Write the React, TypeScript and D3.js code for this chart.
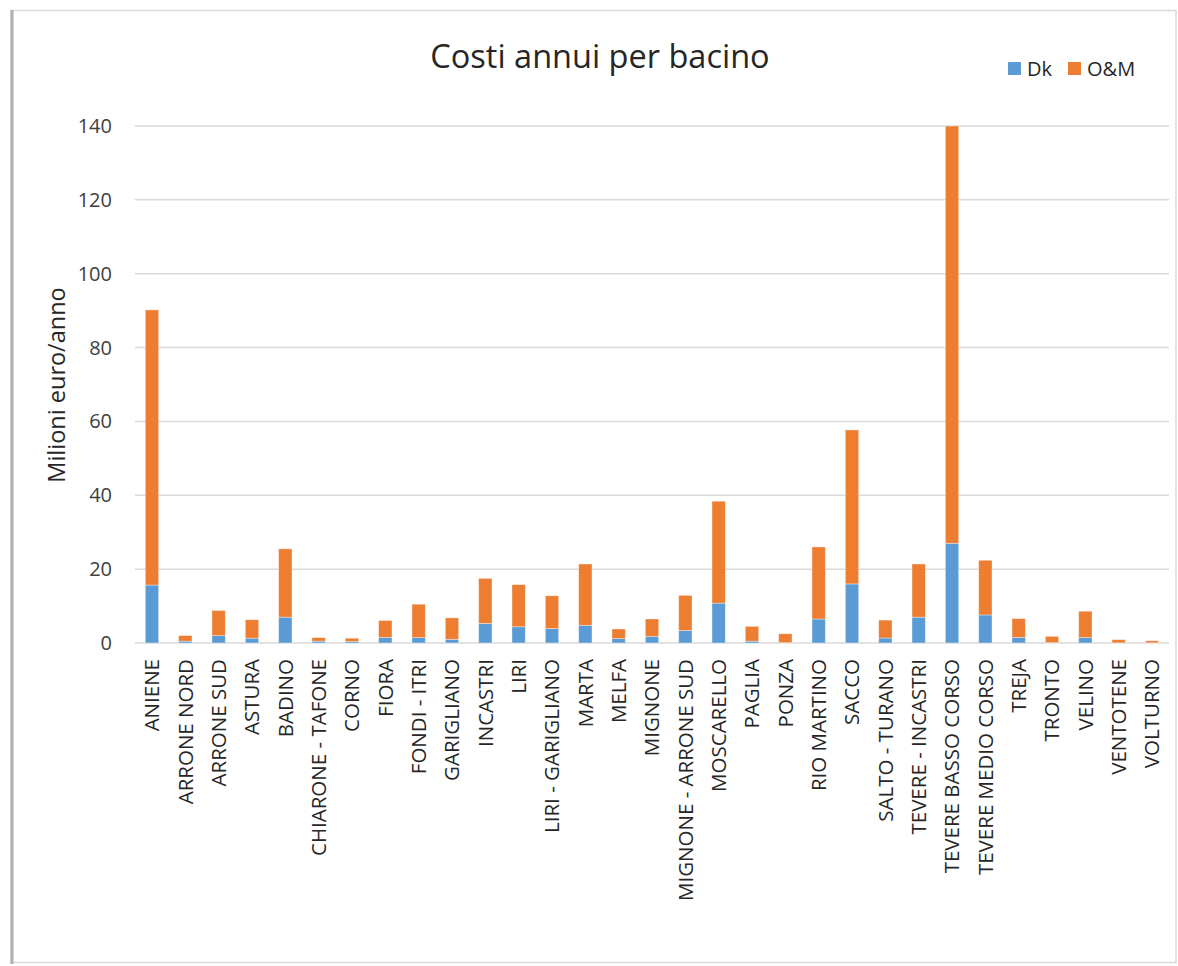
import React from "react";
import * as d3 from "d3";

const categories = [
  "ANIENE", "ARRONE NORD", "ARRONE SUD", "ASTURA", "BADINO", "CHIARONE - TAFONE",
  "CORNO", "FIORA", "FONDI - ITRI", "GARIGLIANO", "INCASTRI", "LIRI",
  "LIRI - GARIGLIANO", "MARTA", "MELFA", "MIGNONE", "MIGNONE - ARRONE SUD",
  "MOSCARELLO", "PAGLIA", "PONZA", "RIO MARTINO", "SACCO", "SALTO - TURANO",
  "TEVERE - INCASTRI", "TEVERE BASSO CORSO", "TEVERE MEDIO CORSO", "TREJA",
  "TRONTO", "VELINO", "VENTOTENE", "VOLTURNO",
];

const dk = [
  15.7, 0.5, 2.0, 1.3, 7.0, 0.5, 0.4, 1.5, 1.45, 1.0, 5.3, 4.4,
  3.9, 4.8, 1.2, 1.8, 3.4, 10.8, 0.5, 0.1, 6.5, 16.0, 1.35,
  7.0, 27.0, 7.6, 1.5, 0.1, 1.45, 0.05, 0.05,
];

const totals = [
  90.2, 2.0, 8.8, 6.3, 25.5, 1.45, 1.3, 6.1, 10.5, 6.8, 17.5, 15.8,
  12.8, 21.4, 3.8, 6.5, 12.9, 38.4, 4.5, 2.5, 26.0, 57.7, 6.2,
  21.4, 140, 22.4, 6.6, 1.8, 8.6, 0.9, 0.6,
];

const om = totals.map((t, i) => +(t - dk[i]).toFixed(2));

const yTicks = [0, 20, 40, 60, 80, 100, 120, 140];

const seriesNames = ["Dk", "O&M"];
const seriesColors = ["#5B9BD5", "#ED7D31"];

const W = 1178;
const H = 966;
const FONT = "'Open Sans', 'Noto Sans', sans-serif";

export default function App() {
  const x = d3.scaleBand<string>().domain(categories).range([135.3, 1168.7]).paddingInner(0.6).paddingOuter(0.3);
  const y = d3.scaleLinear().domain([0, 140]).range([643, 126]);

  const rows = categories.map((c, i) => ({ cat: c, Dk: dk[i], "O&M": om[i] }));
  const stacked = d3.stack<any>().keys(seriesNames)(rows);

  return (
    <svg width={W} height={H} style={{ position: "absolute", left: 0, top: 0, background: "#fff" }}>
      <rect x={0} y={0} width={W} height={H} fill="#fff" />
      {/* chart frame */}
      <rect x={11} y={10.5} width={1165} height={952} fill="none" stroke="#d9d9d9" strokeWidth={1.5} />
      <line x1={12} x2={12} y1={10} y2={964} stroke="#b0b0b0" strokeWidth={3} />

      {/* gridlines */}
      {yTicks.map((t) => (
        <line key={t} x1={135} x2={1169} y1={y(t)} y2={y(t)} stroke="#d9d9d9" strokeWidth={1.5} />
      ))}

      {/* bars */}
      {stacked.map((s, si) => (
        <g key={s.key} fill={seriesColors[si]}>
          {s.map((d: any, i: number) => {
            const y0 = y(Math.min(d[0], 140));
            const y1 = y(Math.min(d[1], 140));
            return (
              <rect
                key={i}
                x={x(categories[i])}
                y={y1}
                width={x.bandwidth()}
                height={Math.max(0, y0 - y1)}
                stroke="#ffffff"
                strokeOpacity={0.45}
                strokeWidth={0.8}
              />
            );
          })}
        </g>
      ))}

      {/* y tick labels */}
      {yTicks.map((t) => (
        <text key={t} x={112} y={y(t)} dy="0.35em" textAnchor="end" fontFamily={FONT} fontSize={20} fill="#404040">
          {t}
        </text>
      ))}

      {/* y axis title */}
      <text
        transform={`translate(57,385) rotate(-90)`}
        textAnchor="middle"
        dy="0.35em"
        fontFamily={FONT}
        fontSize={23.5}
        fill="#262626"
      >
        Milioni euro/anno
      </text>

      {/* x labels */}
      {categories.map((c) => (
        <text
          key={c}
          transform={`translate(${(x(c) as number) + x.bandwidth() / 2},659) rotate(-90)`}
          textAnchor="end"
          dy="0.36em"
          fontFamily={FONT}
          fontSize={20.5}
          fill="#262626"
        >
          {c}
        </text>
      ))}

      {/* title */}
      <text x={600} y={68} textAnchor="middle" fontFamily={FONT} fontSize={32.5} fill="#262626">
        Costi annui per bacino
      </text>

      {/* legend */}
      {seriesNames.map((n, i) => {
        const lx = [1008, 1068][i];
        return (
          <g key={n}>
            <rect x={lx} y={62} width={13} height={13} fill={seriesColors[i]} />
            <text x={lx + 19} y={68.5} dy="0.35em" fontFamily={FONT} fontSize={20} fill="#262626">
              {n}
            </text>
          </g>
        );
      })}
    </svg>
  );
}
